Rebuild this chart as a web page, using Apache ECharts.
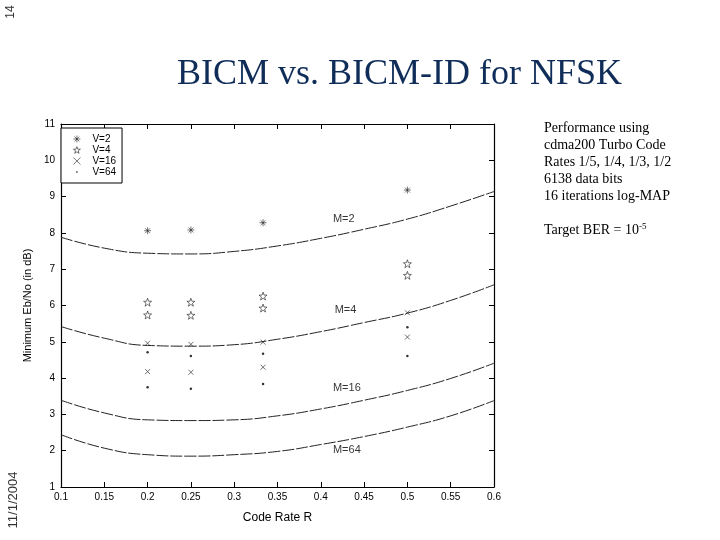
<!DOCTYPE html>
<html>
<head>
<meta charset="utf-8">
<script src="https://cdn.jsdelivr.net/npm/echarts@6/dist/echarts.min.js"></script>
<style>html,body{margin:0;padding:0;background:#fff;}#c{width:720px;height:540px;}</style>
</head>
<body>
<div id="c"></div>
<script>
// ---- data ----
const curveX = [0.1, 0.15, 0.2, 0.25, 0.3, 0.35, 0.4, 0.45, 0.5, 0.55, 0.6];
const curveM2 = [7.88, 7.58, 7.44, 7.42, 7.49, 7.64, 7.85, 8.10, 8.38, 8.74, 9.14];
const curveM4 = [5.42, 5.10, 4.90, 4.88, 4.92, 5.07, 5.28, 5.53, 5.79, 6.14, 6.57];
const curveM16 = [3.39, 3.04, 2.85, 2.83, 2.85, 2.96, 3.15, 3.39, 3.66, 3.99, 4.41];
const curveM64 = [2.44, 2.07, 1.89, 1.85, 1.89, 1.98, 2.17, 2.39, 2.65, 2.96, 3.38];

const v2X = [0.2, 0.25, 0.3333, 0.5];
const v2Y = [8.06, 8.08, 8.28, 9.18];
const vX = [0.2, 0.2, 0.25, 0.25, 0.3333, 0.3333, 0.5, 0.5];
const v4Y = [6.09, 5.74, 6.09, 5.73, 6.26, 5.93, 7.15, 6.83];
const v16Y = [4.96, 4.18, 4.93, 4.16, 4.99, 4.30, 5.80, 5.13];
const v64Y = [4.71, 3.75, 4.61, 3.71, 4.67, 3.84, 5.40, 4.61];

const curveLabels = ['M=2', 'M=4', 'M=16', 'M=64'];
const curveLabelX = [0.414, 0.416, 0.414, 0.414];
const curveLabelY = [8.38, 5.88, 3.72, 2.01];

const legendNames = ['V=2', 'V=4', 'V=16', 'V=64'];
const infoLines = ['Performance using', 'cdma200 Turbo Code', 'Rates 1/5, 1/4, 1/3, 1/2', '6138 data bits', '16 iterations log-MAP'];

// ---- build ----
const zip = (xs, ys) => xs.map((x, i) => [x, ys[i]]);
const AST = 'path://M5,0L5,10M0,5L10,5M1.5,1.5L8.5,8.5M1.5,8.5L8.5,1.5';
const STAR = 'path://M5,0L6.18,3.38L9.76,3.45L6.9,5.62L7.94,9.05L5,7L2.06,9.05L3.1,5.62L0.24,3.45L3.82,3.38Z';
const XMK = 'path://M0,0L10,10M0,10L10,0';
const DOT = 'path://M0,0M10,10M4,4L6,4L6,6L4,6Z';
const sans = 'Liberation Sans, Arial, sans-serif';
const serif = 'Liberation Serif, Times New Roman, serif';
const strokeStyle = { color: 'transparent', borderColor: '#222', borderWidth: 0.8 };

function curve(name, ys) {
  return {
    name: name, type: 'line', smooth: true, showSymbol: false, silent: true,
    data: zip(curveX, ys),
    lineStyle: { color: '#222', width: 1, type: [12, 2] }, z: 2
  };
}
function pts(name, xs, ys, sym, size, filled) {
  return {
    name: name, type: 'scatter', data: zip(xs, ys), symbol: sym, symbolSize: size,
    itemStyle: filled ? { color: '#000' } : strokeStyle,
    z: 3
  };
}

const chart = echarts.init(document.getElementById('c'), null, { renderer: 'canvas' });
const axisCommon = {
  axisLine: { show: true, onZero: false, lineStyle: { color: '#000', width: 1.2 } },
  axisTick: { show: true, inside: true, length: 5, lineStyle: { color: '#000' } },
  splitLine: { show: false }
};
chart.setOption({
  animation: false,
  backgroundColor: '#fff',
  title: [{
    text: 'BICM vs. BICM-ID for NFSK', left: 172, top: 52,
    textStyle: { fontFamily: serif, fontSize: 36, fontWeight: 'normal', color: '#0f2d58' }
  }, {
    text: infoLines.join('\n') + '\n\n{a|Target BER = 10}{s|-5}', left: 539, top: 115,
    textStyle: { fontFamily: serif, fontSize: 14, fontWeight: 'normal', color: '#000', lineHeight: 17,
      rich: { a: { fontFamily: serif, fontSize: 14, color: '#000' }, s: { fontFamily: serif, fontSize: 9, color: '#000', padding: [0, 0, 7, 0] } } }
  }],
  grid: { left: 61, right: 226, top: 124, bottom: 53, containLabel: false },
  legend: {
    data: [
      { name: 'V=2', icon: AST, itemStyle: strokeStyle },
      { name: 'V=4', icon: STAR, itemStyle: strokeStyle },
      { name: 'V=16', icon: XMK, itemStyle: strokeStyle },
      { name: 'V=64', icon: DOT, itemStyle: { color: '#000' } }
    ],
    orient: 'vertical', left: 61, top: 128,
    padding: [6, 6, 6, 12], itemGap: 1, itemWidth: 7, itemHeight: 7,
    borderColor: '#000', borderWidth: 1, backgroundColor: '#fff',
    textStyle: { fontFamily: sans, fontSize: 10, color: '#000', lineHeight: 10, padding: [0, 0, 0, 7] }
  },
  xAxis: [Object.assign({
    type: 'value', min: 0.1, max: 0.6, interval: 0.05, position: 'bottom',
    name: 'Code Rate R', nameLocation: 'middle', nameGap: 25,
    nameTextStyle: { fontFamily: sans, fontSize: 12, color: '#000' },
    axisLabel: { fontFamily: sans, fontSize: 10, color: '#000', margin: 5,
      formatter: v => String(Math.round(v * 100) / 100) }
  }, axisCommon), Object.assign({
    type: 'value', min: 0.1, max: 0.6, interval: 0.05, position: 'top',
    axisLabel: { show: false }
  }, axisCommon)],
  yAxis: [Object.assign({
    type: 'value', min: 1, max: 11, interval: 1, position: 'left',
    name: 'Minimum Eb/No (in dB)', nameLocation: 'middle', nameGap: 25, nameRotate: 90,
    nameTextStyle: { fontFamily: sans, fontSize: 11, color: '#000' },
    axisLabel: { fontFamily: sans, fontSize: 10, color: '#000', margin: 6 }
  }, axisCommon), Object.assign({
    type: 'value', min: 1, max: 11, interval: 1, position: 'right',
    axisLabel: { show: false }
  }, axisCommon)],
  series: [
    curve('M2', curveM2), curve('M4', curveM4), curve('M16', curveM16), curve('M64', curveM64),
    pts('V=2', v2X, v2Y, AST, 7, false),
    pts('V=4', vX, v4Y, STAR, 8, false),
    pts('V=16', vX, v16Y, XMK, 5, false),
    pts('V=64', vX, v64Y, 'circle', 2.5, true),
    {
      name: 'labels', type: 'scatter', symbolSize: 0, silent: true,
      data: curveLabels.map((t, i) => ({ value: [curveLabelX[i], curveLabelY[i]], name: t })),
      label: { show: true, position: 'right', distance: 0, formatter: p => p.name,
        fontFamily: sans, fontSize: 11, color: '#000' }
    }
  ],
  graphic: [
    { type: 'text', x: 11, y: 12, rotation: Math.PI / 2,
      style: { text: '14', fontFamily: sans, fontSize: 12, fill: '#333', align: 'center', verticalAlign: 'middle' } },
    { type: 'text', x: 13, y: 500, rotation: Math.PI / 2,
      style: { text: '11/1/2004', fontFamily: sans, fontSize: 13, fill: '#333', align: 'center', verticalAlign: 'middle' } }
  ]
});
</script>
</body>
</html>
